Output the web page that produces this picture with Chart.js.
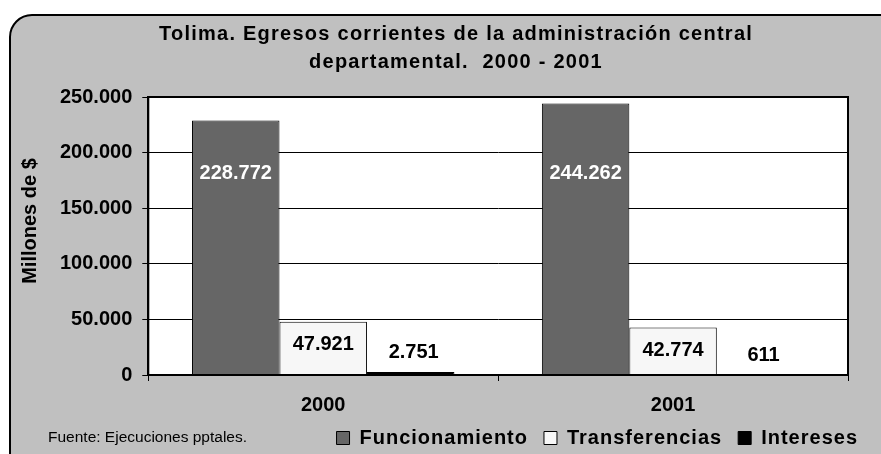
<!DOCTYPE html>
<html><head><meta charset="utf-8">
<script src="https://cdn.jsdelivr.net/npm/chart.js@4.4.1/dist/chart.umd.min.js"></script>
<style>html,body{margin:0;padding:0;background:#fff;}#wrap{width:881px;height:454px;}</style>
</head><body><div id="wrap"><canvas id="c" width="881" height="454"></canvas></div>
<script>
const categories = ['2000', '2001'];
const seriesNames = ['Funcionamiento', 'Transferencias', 'Intereses'];
const funcionamiento = [228772, 244262];
const transferencias = [47921, 42774];
const intereses = [2751, 611];
const yTickValues = [0, 50000, 100000, 150000, 200000, 250000];
const titleLines = ['Tolima. Egresos corrientes de la administración central', 'departamental.  2000 - 2001'];
const yAxisTitle = 'Millones de $';
const sourceNote = 'Fuente: Ejecuciones pptales.';

const FONT = "'Liberation Sans', Arial, sans-serif";
const fmt = n => String(n).replace(/\B(?=(\d{3})+(?!\d))/g, '.');

function wrapMethod(obj, method, spacing, dx, dy) {
  const orig = obj[method].bind(obj);
  obj[method] = function (...args) {
    const ctx = obj.ctx || obj.chart.ctx;
    ctx.save();
    ctx.letterSpacing = spacing;
    if (dx || dy) ctx.translate(dx || 0, dy || 0);
    const r = orig(...args);
    ctx.restore();
    return r;
  };
}

const decor = {
  id: 'decor',
  afterInit(chart) {
    if (chart.titleBlock) wrapMethod(chart.titleBlock, 'draw', '1.25px', 12, 0);
    if (chart.legend) {
      wrapMethod(chart.legend, 'fit', '1px', 0, 0);
      wrapMethod(chart.legend, 'draw', '1px', 0, 0);
    }
  },
  afterLayout(chart) {
    const s = chart.scales.y;
    if (s && !s._titleWrapped) {
      wrapMethod(s, 'drawTitle', '0px', 4, -15);
      s._titleWrapped = true;
    }
  },
  beforeDraw(chart) {
    const ctx = chart.ctx, a = chart.chartArea;
    ctx.save();
    ctx.fillStyle = '#ffffff';
    ctx.fillRect(0, 0, chart.width, chart.height);
    ctx.beginPath();
    ctx.roundRect(10, 15, chart.width + 40, chart.height + 40, 22);
    ctx.fillStyle = '#c0c0c0';
    ctx.fill();
    ctx.lineWidth = 2;
    ctx.strokeStyle = '#000';
    ctx.stroke();
    ctx.fillStyle = '#ffffff';
    ctx.fillRect(a.left, a.top, a.right - a.left, a.bottom - a.top);
    ctx.restore();
  },
  afterDatasetsDraw(chart) {
    const ctx = chart.ctx, a = chart.chartArea;
    ctx.save();
    ctx.strokeStyle = '#000';
    ctx.lineWidth = 2;
    ctx.strokeRect(a.left, a.top, a.right - a.left, a.bottom - a.top);
    ctx.font = 'bold 20px ' + FONT;
    ctx.textAlign = 'center';
    ctx.textBaseline = 'middle';
    chart.data.datasets.forEach((ds, i) => {
      const meta = chart.getDatasetMeta(i);
      meta.data.forEach((el, j) => {
        let y;
        if (i === 0) y = a.top + 76;
        else if (i === 1) y = el.y + 23;
        else y = el.y - 19;
        ctx.fillStyle = i === 0 ? '#ffffff' : '#000000';
        ctx.fillText(fmt(ds.data[j]), el.x + (i === 2 ? 3 : 0), y);
      });
    });
    ctx.restore();
  },
  afterDraw(chart) {
    const ctx = chart.ctx;
    ctx.save();
    ctx.font = '15.5px ' + FONT;
    ctx.fillStyle = '#000';
    ctx.textAlign = 'left';
    ctx.textBaseline = 'middle';
    ctx.fillText(sourceNote, 48, 438);
    ctx.restore();
  }
};

new Chart(document.getElementById('c'), {
  type: 'bar',
  data: {
    labels: categories,
    datasets: [
      { label: seriesNames[0], data: funcionamiento, backgroundColor: '#666666', borderColor: '#000', borderWidth: 1 },
      { label: seriesNames[1], data: transferencias, backgroundColor: '#f7f7f7', borderColor: '#000', borderWidth: 1 },
      { label: seriesNames[2], data: intereses, backgroundColor: '#000000', borderColor: '#000', borderWidth: 1 }
    ]
  },
  options: {
    responsive: false,
    animation: false,
    devicePixelRatio: 1,
    categoryPercentage: 0.75,
    barPercentage: 1,
    layout: { padding: { left: 14, right: 7, top: 0, bottom: -4 } },
    plugins: {
      tooltip: { enabled: false },
      title: {
        display: true, text: titleLines, color: '#000',
        font: { family: FONT, size: 20, weight: 'bold', lineHeight: 1.4 },
        padding: { top: 20, bottom: 21 }
      },
      legend: {
        position: 'bottom', align: 'end',
        labels: { boxWidth: 13, boxHeight: 13, color: '#000', padding: 16,
          font: { family: FONT, size: 20, weight: 'bold' } }
      }
    },
    scales: {
      x: {
        afterFit: s => { s.height -= 17; },
        grid: { offset: true, drawOnChartArea: false, color: '#000', tickLength: 6, lineWidth: 1 },
        border: { color: '#000', width: 2 },
        ticks: { color: '#000', padding: 12, font: { family: FONT, size: 20, weight: 'bold' } }
      },
      y: {
        min: 0, max: 250000,
        afterBuildTicks: s => { s.ticks = yTickValues.map(v => ({ value: v })); },
        grid: { color: '#000', lineWidth: 1, tickLength: 6 },
        border: { color: '#000', width: 2 },
        ticks: { color: '#000', padding: 10, callback: v => fmt(v), font: { family: FONT, size: 20, weight: 'bold' } },
        title: { display: true, text: yAxisTitle, color: '#000', padding: { top: 0, bottom: 12 },
          font: { family: FONT, size: 20, weight: 'bold' } }
      },
      y2: {
        position: 'right', display: true,
        grid: { display: false }, border: { display: false }, ticks: { display: false },
        afterFit: s => { s.width = 26; }
      }
    }
  },
  plugins: [decor]
});
</script></body></html>
